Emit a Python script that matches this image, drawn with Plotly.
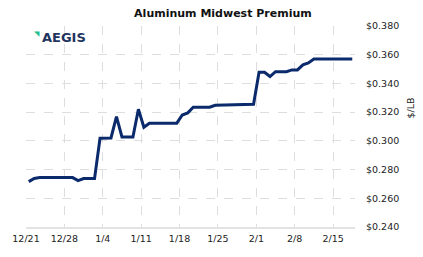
import pandas as pd
import plotly.graph_objects as go

# Day offsets from 2020-12-21 and Midwest premium values ($/lb)
start = "2020-12-21"
day_offsets = [0, 1, 2, 8, 9, 10, 12, 13, 15, 16, 17, 19, 20, 21, 22, 27, 28, 29, 30,
               33, 34, 38, 41, 42, 43, 44, 45, 47, 48, 49, 50, 51, 52, 59]
values = [0.2716, 0.2738, 0.2744, 0.2744, 0.2723, 0.2737, 0.2737, 0.3018, 0.3020,
          0.3169, 0.3027, 0.3027, 0.3220, 0.3095, 0.3123, 0.3123, 0.3180, 0.3195,
          0.3234, 0.3234, 0.3248, 0.3255, 0.3255, 0.3478, 0.3478, 0.3448, 0.3482,
          0.3482, 0.3494, 0.3494, 0.3529, 0.3543, 0.3570, 0.3570]
tick_dates = ["2020-12-21", "2020-12-28", "2021-01-04", "2021-01-11", "2021-01-18",
              "2021-01-25", "2021-02-01", "2021-02-08", "2021-02-15"]
tick_labels = ["12/21", "12/28", "1/4", "1/11", "1/18", "1/25", "2/1", "2/8", "2/15"]
y_ticks = [0.24, 0.26, 0.28, 0.30, 0.32, 0.34, 0.36, 0.38]

dates = pd.to_datetime(start) + pd.to_timedelta(day_offsets, unit="D") + pd.Timedelta(hours=12)

fig = go.Figure()
fig.add_trace(go.Scatter(x=dates, y=values, mode="lines",
                         line=dict(color="#0b2a6b", width=3), hoverinfo="skip"))

grid = "#dedede"
fig.update_layout(
    width=423, height=257,
    margin=dict(l=20, r=68, t=26, b=30),
    paper_bgcolor="white", plot_bgcolor="white",
    showlegend=False,
    title=dict(text="<b>Aluminum Midwest Premium</b>", x=0.527, xanchor="center",
               y=1 - 13 / 257, yanchor="middle",
               font=dict(family="DejaVu Sans", size=11, color="#111111")),
    font=dict(family="DejaVu Sans", size=9, color="#222222"),
    xaxis=dict(range=["2020-12-21", "2021-02-19"], tickvals=pd.to_datetime(tick_dates),
               ticktext=tick_labels, showgrid=True, gridcolor=grid, griddash="dash",
               gridwidth=1, showline=True, linecolor="#e3e3e3", linewidth=2,
               zeroline=False, ticks="", tickfont=dict(size=9.5), ticklabelstandoff=2),
    yaxis=dict(range=[0.24, 0.38], side="right", tickvals=y_ticks,
               tickformat="$.3f", showgrid=True, gridcolor=grid, griddash="dash",
               gridwidth=1, zeroline=False, showline=False, ticks="",
               ticklabelstandoff=10, tickfont=dict(size=9.5)),
)
fig.add_annotation(x=1.19, y=0.59, xref="paper", yref="paper", text="$/LB",
                   textangle=-90, showarrow=False, font=dict(size=9.5, color="#222222"))
# logo
fig.add_annotation(x=(26 - 20) / 334.7, y=(227 - 34) / 201, xref="paper", yref="paper",
                   xanchor="left", yanchor="middle", showarrow=False,
                   text="◥", font=dict(family="DejaVu Sans", size=7, color="#22c08e"))
fig.add_annotation(x=(34 - 20) / 334.7, y=(227 - 37.5) / 201, xref="paper", yref="paper",
                   xanchor="left", yanchor="middle", showarrow=False,
                   text="<b>AEGIS</b>",
                   font=dict(family="DejaVu Sans", size=13, color="#1f3560"))
fig.write_html("out.html")
